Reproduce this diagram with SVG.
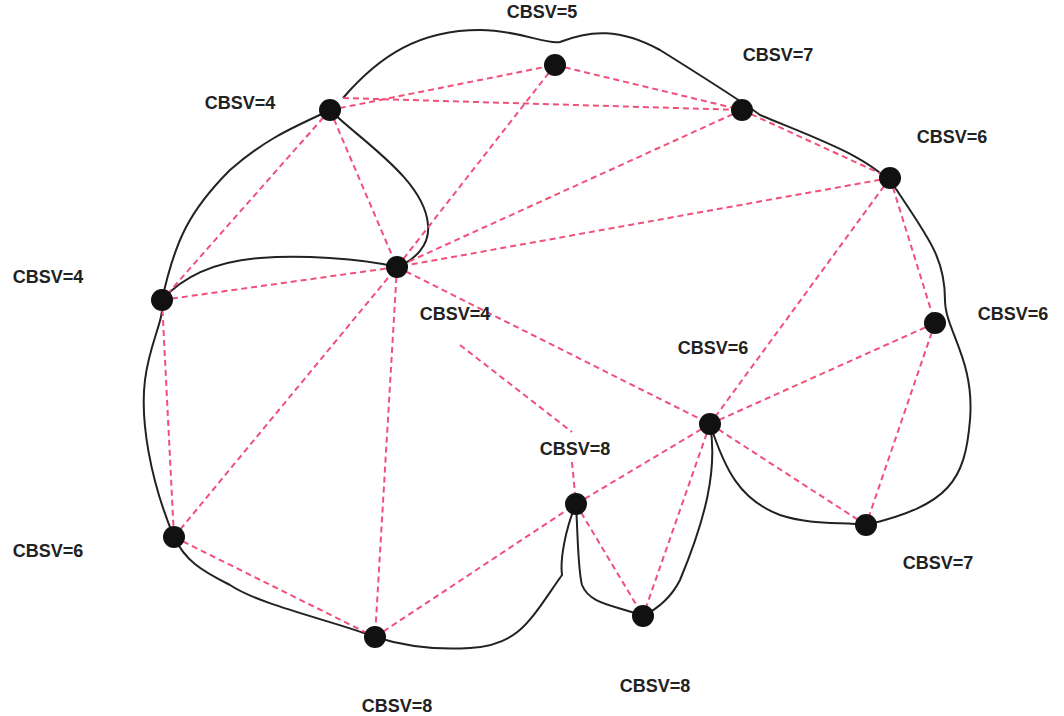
<svg xmlns="http://www.w3.org/2000/svg" width="1064" height="716" viewBox="0 0 1064 716">
<style>
.o{fill:none;stroke:#222;stroke-width:2}
.d{stroke:#f0507a;stroke-width:2;stroke-dasharray:6,4;fill:none}
.n{fill:#111}
text{font-family:"Liberation Sans",Arial,sans-serif;font-weight:bold;font-size:18px;fill:#222;text-anchor:middle}
</style>
<rect width="1064" height="716" fill="#fff"/>
<g id="connectors">
<path class="o" d="M343,98 C380,55 420,30 480,30 C520,30 545,45 560,42 C590,30 620,28 660,50 C700,75 740,100 760,115 C820,140 880,160 900,195 C930,240 945,260 945,300 C945,330 975,360 970,420 C965,480 950,505 866,525 C840,522 810,525 780,515 C740,500 725,470 710,424 C718,470 705,520 680,580 C670,600 655,610 643,616 C615,605 590,605 582,585 C578,570 578,540 576,504 C565,530 560,560 562,575 C530,620 520,645 470,648 C440,650 410,648 375,637 C330,620 260,605 230,585 C200,570 185,560 174,537 C150,480 140,420 145,380 C150,340 165,320 162,300 C175,240 190,210 230,170 C270,135 300,125 330,110 C360,140 425,180 428,225 C430,245 415,260 397,267 M162,300 C180,280 210,262 260,258 C300,255 360,258 397,267"/>
<g class="d">
<line x1="330" y1="110" x2="555" y2="65"/>
<line x1="343" y1="98" x2="742" y2="110"/>
<line x1="555" y1="65" x2="742" y2="110"/>
<line x1="742" y1="110" x2="890" y2="178"/>
<line x1="330" y1="110" x2="397" y2="267"/>
<line x1="330" y1="110" x2="162" y2="300"/>
<line x1="555" y1="65" x2="397" y2="267"/>
<line x1="742" y1="110" x2="397" y2="267"/>
<line x1="890" y1="178" x2="397" y2="267"/>
<line x1="890" y1="178" x2="935" y2="323"/>
<line x1="890" y1="178" x2="710" y2="424"/>
<line x1="162" y1="300" x2="397" y2="267"/>
<line x1="162" y1="300" x2="174" y2="537"/>
<line x1="174" y1="537" x2="397" y2="267"/>
<line x1="397" y1="267" x2="375" y2="637"/>
<line x1="397" y1="267" x2="710" y2="424"/>
<line x1="460" y1="345" x2="572" y2="432"/>
<line x1="174" y1="537" x2="375" y2="637"/>
<line x1="375" y1="637" x2="576" y2="504"/>
<line x1="576" y1="504" x2="710" y2="424"/>
<line x1="576" y1="504" x2="643" y2="616"/>
<line x1="710" y1="424" x2="643" y2="616"/>
<line x1="710" y1="424" x2="866" y2="525"/>
<line x1="710" y1="424" x2="935" y2="323"/>
<line x1="935" y1="323" x2="866" y2="525"/>
<line x1="572" y1="462" x2="576" y2="504"/>
</g>
</g>
<g id="n1"><circle class="n" cx="330" cy="110" r="11"/><text x="240" y="109">CBSV=4</text></g>
<g id="n2"><circle class="n" cx="555" cy="65" r="11"/><text x="542" y="18">CBSV=5</text></g>
<g id="n3"><circle class="n" cx="742" cy="110" r="11"/><text x="778" y="61">CBSV=7</text></g>
<g id="n4"><circle class="n" cx="890" cy="178" r="11"/><text x="952" y="143">CBSV=6</text></g>
<g id="n5"><circle class="n" cx="397" cy="267" r="11"/><text x="455" y="320">CBSV=4</text></g>
<g id="n6"><circle class="n" cx="162" cy="300" r="11"/><text x="48" y="283">CBSV=4</text></g>
<g id="n7"><circle class="n" cx="935" cy="323" r="11"/><text x="1013" y="320">CBSV=6</text></g>
<g id="n8"><circle class="n" cx="710" cy="424" r="11"/><text x="713" y="354">CBSV=6</text></g>
<g id="n9"><circle class="n" cx="576" cy="504" r="11"/><text x="575" y="455">CBSV=8</text></g>
<g id="n10"><circle class="n" cx="174" cy="537" r="11"/><text x="48" y="557">CBSV=6</text></g>
<g id="n11"><circle class="n" cx="866" cy="525" r="11"/><text x="938" y="569">CBSV=7</text></g>
<g id="n12"><circle class="n" cx="643" cy="616" r="11"/><text x="655" y="692">CBSV=8</text></g>
<g id="n13"><circle class="n" cx="375" cy="637" r="11"/><text x="397" y="712">CBSV=8</text></g>
</svg>
